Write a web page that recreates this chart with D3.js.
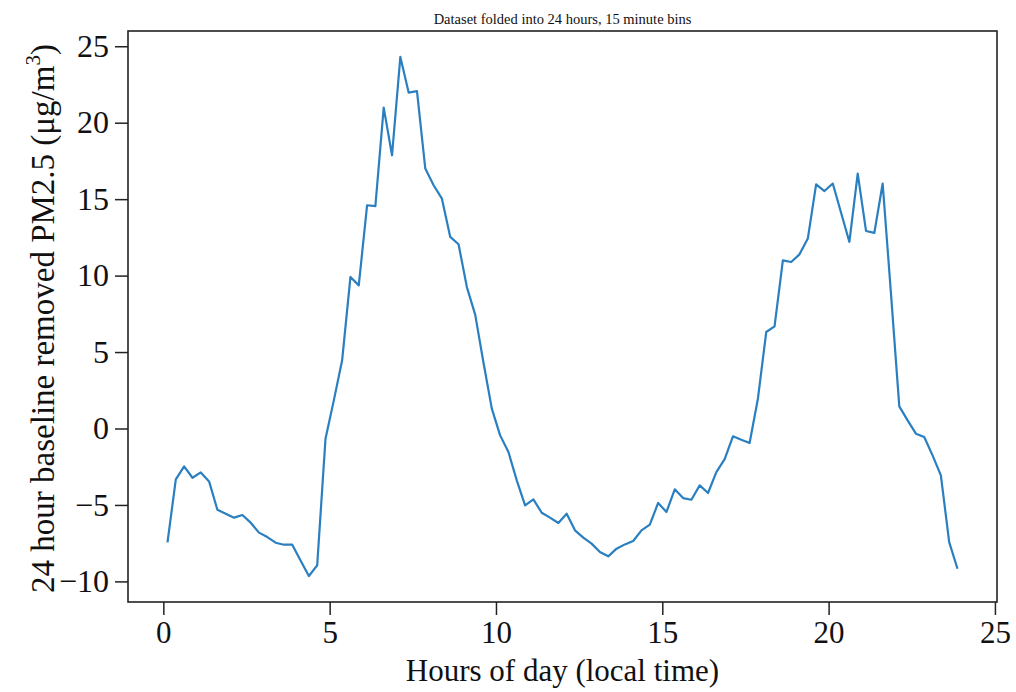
<!DOCTYPE html>
<html>
<head>
<meta charset="utf-8">
<script src="https://cdn.jsdelivr.net/npm/d3@7"></script>
<style>
  html, body { margin: 0; padding: 0; background: #fff; }
  svg { display: block; }
  text { font-family: "Liberation Serif", "Times New Roman", serif; fill: #111; }
</style>
</head>
<body>
<svg id="chart" width="1016" height="692"></svg>
<script>
// ---- data ----
const hours = [
  0.125, 0.375, 0.625, 0.875, 1.125, 1.375, 1.625, 1.875, 2.125, 2.375, 2.625, 2.875,
  3.125, 3.375, 3.625, 3.875, 4.125, 4.375, 4.625, 4.875, 5.125, 5.375, 5.625, 5.875,
  6.125, 6.375, 6.625, 6.875, 7.125, 7.375, 7.625, 7.875, 8.125, 8.375, 8.625, 8.875,
  9.125, 9.375, 9.625, 9.875, 10.125, 10.375, 10.625, 10.875, 11.125, 11.375, 11.625, 11.875,
  12.125, 12.375, 12.625, 12.875, 13.125, 13.375, 13.625, 13.875, 14.125, 14.375, 14.625, 14.875,
  15.125, 15.375, 15.625, 15.875, 16.125, 16.375, 16.625, 16.875, 17.125, 17.375, 17.625, 17.875,
  18.125, 18.375, 18.625, 18.875, 19.125, 19.375, 19.625, 19.875, 20.125, 20.375, 20.625, 20.875,
  21.125, 21.375, 21.625, 21.875, 22.125, 22.375, 22.625, 22.875, 23.125, 23.375, 23.625, 23.875
];
const pm25 = [
  -7.45, -3.33, -2.48, -3.22, -2.87, -3.46, -5.31, -5.57, -5.83, -5.66, -6.16, -6.81,
  -7.10, -7.47, -7.60, -7.60, -8.63, -9.65, -8.95, -0.67, 1.84, 4.46, 9.91, 9.36,
  14.60, 14.55, 20.99, 17.87, 24.30, 21.97, 22.06, 17.00, 15.91, 15.03, 12.53, 12.05,
  9.25, 7.45, 4.30, 1.30, -0.45, -1.54, -3.39, -5.03, -4.64, -5.51, -5.83, -6.18,
  -5.57, -6.66, -7.14, -7.53, -8.08, -8.36, -7.86, -7.58, -7.36, -6.66, -6.29, -4.87,
  -5.46, -3.98, -4.55, -4.66, -3.72, -4.22, -2.85, -2.00, -0.51, -0.73, -0.95, 1.95,
  6.31, 6.68, 11.00, 10.89, 11.39, 12.42, 15.97, 15.53, 16.02, 14.11, 12.20, 16.67,
  12.92, 12.79, 16.02, 8.82, 1.45, 0.53, -0.34, -0.56, -1.76, -3.07, -7.43, -9.17
];
const xTicks = [0, 5, 10, 15, 20, 25];
const yTicks = [-10, -5, 0, 5, 10, 15, 20, 25];
const titleText = "Dataset folded into 24 hours, 15 minute bins";
const xLabel = "Hours of day (local time)";
const yLabelMain = "24 hour baseline removed PM2.5 (μg/m";
const yLabelSup = "3";
const yLabelEnd = ")";

// ---- layout ----
const W = 1016, H = 692;
const m = { left: 128, right: 19, top: 31, bottom: 90 };
const pw = W - m.left - m.right, ph = H - m.top - m.bottom;

const svg = d3.select("#chart");
const g = svg.append("g").attr("transform", `translate(${m.left},${m.top})`);

// matplotlib-like 5% margins
const xe = d3.extent(hours), ye = d3.extent(pm25);
const xpad = (xe[1] - xe[0]) * 0.05, ypad = (ye[1] - ye[0]) * 0.05;
const x = d3.scaleLinear().domain([xe[0] - xpad, xe[1] + xpad]).range([0, pw]);
const y = d3.scaleLinear().domain([ye[0] - ypad, ye[1] + ypad]).range([ph, 0]);

// minor ticks
const xMinor = d3.range(Math.ceil(x.domain()[0]), Math.floor(x.domain()[1]) + 1).filter(v => v % 5 !== 0);
const yMinor = d3.range(Math.ceil(y.domain()[0]), Math.floor(y.domain()[1]) + 1).filter(v => v % 5 !== 0);

const fmt = d => d < 0 ? "\u2212" + Math.abs(d) : String(d);

// x axis
const gx = g.append("g").attr("transform", `translate(0,${ph})`);
gx.call(d3.axisBottom(x).tickValues(xMinor).tickSize(7).tickFormat(""));
gx.call(d3.axisBottom(x).tickValues(xTicks).tickSize(13).tickPadding(6).tickFormat(fmt));
gx.select(".domain").remove();
gx.selectAll(".tick line").attr("stroke", "#222").attr("stroke-width", 1.5);
gx.selectAll(".tick text").attr("font-size", 31).attr("font-family", "Liberation Serif").attr("fill", "#111");

// y axis
const gy = g.append("g");
gy.call(d3.axisLeft(y).tickValues(yMinor).tickSize(7).tickFormat(""));
gy.call(d3.axisLeft(y).tickValues(yTicks).tickSize(13).tickPadding(6).tickFormat(fmt));
gy.select(".domain").remove();
gy.selectAll(".tick line").attr("stroke", "#222").attr("stroke-width", 1.5);
gy.selectAll(".tick text").attr("font-size", 32).attr("font-family", "Liberation Serif").attr("fill", "#111");

// frame
g.append("rect").attr("x", 0).attr("y", 0).attr("width", pw).attr("height", ph)
  .attr("fill", "none").attr("stroke", "#222").attr("stroke-width", 1.6);

// line
const line = d3.line().x((d, i) => x(hours[i])).y(d => y(d));
g.append("path").datum(pm25)
  .attr("d", line).attr("fill", "none")
  .attr("stroke", "#2a7fc0").attr("stroke-width", 2.2).attr("stroke-linejoin", "round");

// title
svg.append("text").attr("x", m.left + pw / 2).attr("y", 24)
  .attr("text-anchor", "middle").attr("font-size", 14.5).text(titleText);

// x label
svg.append("text").attr("x", m.left + pw / 2).attr("y", 681)
  .attr("text-anchor", "middle").attr("font-size", 31).text(xLabel);

// y label
const yl = svg.append("text")
  .attr("transform", `translate(54,${m.top + ph / 2 + 2}) rotate(-90)`)
  .attr("text-anchor", "middle").attr("font-size", 33);
yl.append("tspan").text(yLabelMain);
yl.append("tspan").attr("font-size", 21).attr("dy", -14).text(yLabelSup);
yl.append("tspan").attr("dy", 14).text(yLabelEnd);
</script>
</body>
</html>
